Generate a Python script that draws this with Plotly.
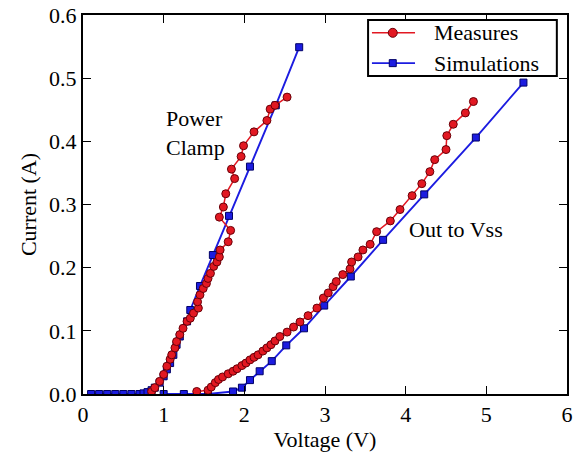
import plotly.graph_objects as go

# Power Clamp - measures
pc_meas_v = [0.85, 0.89, 0.95, 1.00, 1.04, 1.08, 1.10, 1.14, 1.16, 1.20, 1.24, 1.29, 1.33, 1.37, 1.43, 1.42,
             1.45, 1.49, 1.53, 1.55, 1.58, 1.62, 1.66, 1.69, 1.70, 1.80, 1.83, 1.69, 1.74, 1.77, 1.88, 1.84,
             1.96, 1.99, 2.12, 2.28, 2.32, 2.38, 2.53]
pc_meas_i = [0.004, 0.010, 0.020, 0.031, 0.044, 0.055, 0.062, 0.073, 0.083, 0.094, 0.104, 0.115, 0.120, 0.128, 0.136, 0.146,
             0.157, 0.167, 0.175, 0.183, 0.191, 0.202, 0.209, 0.217, 0.228, 0.241, 0.259, 0.280, 0.296, 0.317, 0.341, 0.356,
             0.376, 0.393, 0.415, 0.433, 0.451, 0.457, 0.470]

# Power Clamp - simulations
pc_sim_v = [0.1, 0.2, 0.3, 0.4, 0.5, 0.6, 0.7, 0.75, 0.8, 0.85, 0.89, 0.95, 1.00, 1.04, 1.08, 1.12, 1.16,
            1.20, 1.29, 1.33, 1.45, 1.61, 1.81, 2.07, 2.39, 2.68]
pc_sim_i = [0.0, 0.0, 0.0, 0.0, 0.0, 0.0, 0.0, 0.001, 0.003, 0.006, 0.010, 0.018, 0.028, 0.039, 0.049, 0.062, 0.078,
            0.091, 0.115, 0.133, 0.171, 0.220, 0.282, 0.360, 0.457, 0.549]

# Out to Vss - measures
ov_meas_v = [1.41, 1.55, 1.59, 1.64, 1.68, 1.73, 1.80, 1.86, 1.91, 1.97, 2.02, 2.07, 2.12, 2.17, 2.23, 2.28,
             2.33, 2.38, 2.44, 2.53, 2.61, 2.69, 2.79, 2.90, 2.98, 3.04, 3.10, 3.14, 3.22, 3.31, 3.33, 3.41,
             3.47, 3.56, 3.64, 3.81, 3.93, 4.08, 4.20, 4.30, 4.36, 4.50, 4.51, 4.59, 4.74, 4.84]
ov_meas_i = [0.004, 0.006, 0.011, 0.018, 0.023, 0.027, 0.032, 0.036, 0.040, 0.045, 0.049, 0.054, 0.058, 0.062, 0.068, 0.073,
             0.078, 0.084, 0.091, 0.098, 0.106, 0.114, 0.124, 0.136, 0.152, 0.160, 0.170, 0.178, 0.189, 0.198, 0.209, 0.217,
             0.228, 0.237, 0.257, 0.274, 0.292, 0.314, 0.333, 0.352, 0.371, 0.387, 0.409, 0.427, 0.445, 0.463]

# Out to Vss - simulations
ov_sim_v = [1.0, 1.25, 1.55, 1.86, 1.97, 2.07, 2.19, 2.34, 2.52, 2.74, 2.99, 3.32, 3.72, 4.23, 4.87, 5.46]
ov_sim_i = [0.0, 0.0, 0.0, 0.004, 0.010, 0.022, 0.036, 0.052, 0.077, 0.104, 0.140, 0.186, 0.244, 0.316, 0.406, 0.493]

x_ticks = [0, 1, 2, 3, 4, 5, 6]
y_ticks = [0.0, 0.1, 0.2, 0.3, 0.4, 0.5, 0.6]
legend_names = ["Measures", "Simulations"]

RED = "#e21822"
RED_EDGE = "#6a0008"
BLUE = "#1c1ce0"
BLUE_EDGE = "#000066"
FONT = "Liberation Serif"
FS = 22

fig = go.Figure()

meas_style = dict(mode="lines+markers", name=legend_names[0], showlegend=False,
                  line=dict(color=RED, width=1.5),
                  marker=dict(symbol="circle", size=8, color=RED, line=dict(color=RED_EDGE, width=1)))
sim_style = dict(mode="lines+markers", name=legend_names[1], showlegend=False,
                 line=dict(color=BLUE, width=1.9),
                 marker=dict(symbol="square", size=7, color=BLUE, line=dict(color=BLUE_EDGE, width=1)))

fig.add_trace(go.Scatter(x=ov_sim_v, y=ov_sim_i, **sim_style))
fig.add_trace(go.Scatter(x=ov_meas_v, y=ov_meas_i, **meas_style))
fig.add_trace(go.Scatter(x=pc_sim_v, y=pc_sim_i, **sim_style))
fig.add_trace(go.Scatter(x=pc_meas_v, y=pc_meas_i, **meas_style))

fig.add_annotation(x=1.0, y=0.413, text="Power<br>Clamp", showarrow=False, xanchor="left",
                   align="left", font=dict(family=FONT, size=FS, color="black"))
fig.add_annotation(x=4.62, y=0.261, text="Out to Vss", showarrow=False,
                   font=dict(family=FONT, size=FS, color="black"))

# ---- legend box (drawn in paper coordinates) ----
LX0, LX1, LY0, LY1 = 0.589, 0.979, 0.839, 0.987
rows_y = [0.953, 0.873]
line_x0, line_x1, mark_x, text_x = 0.597, 0.686, 0.640, 0.721
fig.add_shape(type="rect", xref="paper", yref="paper", x0=LX0, x1=LX1, y0=LY0, y1=LY1,
              fillcolor="white", line=dict(color="black", width=2), layer="above")
styles = [(RED, RED_EDGE, "circle", 4.5, 1.5), (BLUE, BLUE_EDGE, "rect", 3.5, 1.9)]
for name, ry, (col, edge, shp, half, lw) in zip(legend_names, rows_y, styles):
    fig.add_shape(type="line", xref="paper", yref="paper", x0=line_x0, x1=line_x1, y0=ry, y1=ry,
                  line=dict(color=col, width=lw), layer="above")
    fig.add_shape(type=shp, xref="paper", yref="paper", xsizemode="pixel", ysizemode="pixel",
                  xanchor=mark_x, yanchor=ry, x0=-half, x1=half, y0=-half, y1=half,
                  fillcolor=col, line=dict(color=edge, width=1), layer="above")
    fig.add_annotation(xref="paper", yref="paper", x=text_x, y=ry, text=name, showarrow=False,
                       xanchor="left", yanchor="middle",
                       font=dict(family=FONT, size=FS, color="black"))

axis_common = dict(showline=True, linecolor="black", linewidth=2, mirror="ticks",
                   ticks="inside", ticklen=8, tickwidth=1.2, tickcolor="black",
                   showgrid=False, zeroline=False, automargin=False,
                   ticklabeloverflow="allow",
                   tickfont=dict(family=FONT, size=FS, color="black"))

fig.update_xaxes(range=[0, 6], tickvals=x_ticks, ticktext=[str(v) for v in x_ticks],
                 title=dict(text="Voltage (V)", font=dict(family=FONT, size=FS, color="black"), standoff=2),
                 **axis_common)
fig.update_yaxes(range=[0, 0.6], tickvals=y_ticks, ticktext=[f"{v:.1f}" for v in y_ticks],
                 title=dict(text="Current (A)", font=dict(family=FONT, size=FS, color="black"), standoff=6),
                 **axis_common)

fig.update_layout(
    width=585, height=457,
    margin=dict(l=83, r=18, t=15, b=63, autoexpand=False),
    paper_bgcolor="white", plot_bgcolor="white",
    showlegend=False,
)

fig.write_html("out.html", config={"displayModeBar": False},
               post_script="document.body.style.margin='0';")
